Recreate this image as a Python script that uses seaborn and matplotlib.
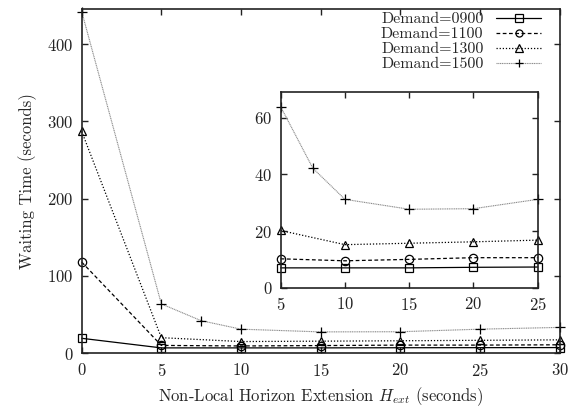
import numpy as np
import pandas as pd
import matplotlib
matplotlib.use('Agg')
import matplotlib.pyplot as plt
import seaborn as sns

# =====================
# DATA
# =====================
demands = ['0900', '1100', '1300', '1500']

h_ext       = [0, 5, 10, 15, 20, 25, 30]
h_ext_1500  = [0, 5, 7.5, 10, 15, 20, 25, 30]

wait_0900 = [19.4, 7.0, 7.0, 7.0, 7.2, 7.3, 7.4]
wait_1100 = [118.0, 10.2, 9.5, 10.0, 10.6, 10.6, 11.0]
wait_1300 = [287.0, 20.2, 15.2, 15.7, 16.2, 16.8, 17.4]
wait_1500 = [442.0, 63.9, 42.2, 31.2, 27.7, 27.9, 31.2, 33.5]

# =====================
# STYLE
# =====================
sns.set_style('ticks')
plt.rcParams['font.family'] = ['cmr10', 'DejaVu Serif']
plt.rcParams['mathtext.fontset'] = 'cm'
plt.rcParams['axes.formatter.use_mathtext'] = True
plt.rcParams['font.size'] = 12
plt.rcParams['axes.edgecolor'] = '#222222'
plt.rcParams['axes.linewidth'] = 1.2

series = [
    ('0900', h_ext, wait_0900, dict(color='black', linestyle='-', marker='s', lw=0.9)),
    ('1100', h_ext, wait_1100, dict(color='black', linestyle=(0, (3, 2)), marker='o', lw=0.9)),
    ('1300', h_ext, wait_1300, dict(color='black', linestyle=(0, (1, 1.5)), marker='^', lw=0.9)),
    ('1500', h_ext_1500, wait_1500, dict(color='#8a8a8a', linestyle=(0, (1, 0.6)), marker='+', lw=0.8)),
]

fig = plt.figure(figsize=(5.84, 4.07), dpi=100)
ax = fig.add_axes([81.7/584, 1 - 353.3/407, (559.5-81.7)/584, (353.3-9.3)/407])
axin = fig.add_axes([280.7/584, 1 - 287.7/407, (537.7-280.7)/584, (287.7-92.3)/407])


def draw(a, xmin, xmax):
    for name, xs, ys, st in series:
        df = pd.DataFrame({'x': xs, 'y': ys})
        df = df[(df['x'] >= xmin) & (df['x'] <= xmax)]
        sns.lineplot(data=df, x='x', y='y', ax=a, color=st['color'],
                     linestyle=st['linestyle'], marker=st['marker'], lw=st['lw'],
                     markersize=7 if st['marker'] == '+' else 6,
                     markerfacecolor='none', markeredgecolor='black',
                     markeredgewidth=0.9, label=f'Demand={name}',
                     estimator=None, sort=False, clip_on=False)


def style(a):
    a.tick_params(direction='in', length=4, width=1, top=True, right=True,
                  colors='#222222', labelcolor='#222222', pad=6)
    a.set_xlabel('')
    a.set_ylabel('')
    for s in a.spines.values():
        s.set_visible(True)


draw(ax, 0, 30)
ax.set_xlim(0, 30)
ax.set_ylim(0, 445)
ax.set_xticks([0, 5, 10, 15, 20, 25, 30])
ax.set_yticks([0, 100, 200, 300, 400])
style(ax)
ax.set_xlabel('Non-Local Horizon Extension $H_{ext}$ (seconds)', labelpad=5)
ax.set_ylabel('Waiting Time (seconds)', labelpad=7)

handles, labels = ax.get_legend_handles_labels()
ax.legend(handles, labels, loc='upper right', frameon=False, markerfirst=False,
          bbox_to_anchor=(541/584, 1 - 12/407), bbox_transform=fig.transFigure,
          borderaxespad=0, borderpad=0, handlelength=2.8, handletextpad=0.8,
          labelspacing=0.05, fontsize=11.5, markerscale=0.85)

draw(axin, 5, 25)
axin.set_xlim(5, 25)
axin.set_ylim(0, 69)
axin.set_xticks([5, 10, 15, 20, 25])
axin.set_yticks([0, 20, 40, 60])
style(axin)
if axin.get_legend() is not None:
    axin.get_legend().remove()

fig.savefig('out.png', dpi=100)
